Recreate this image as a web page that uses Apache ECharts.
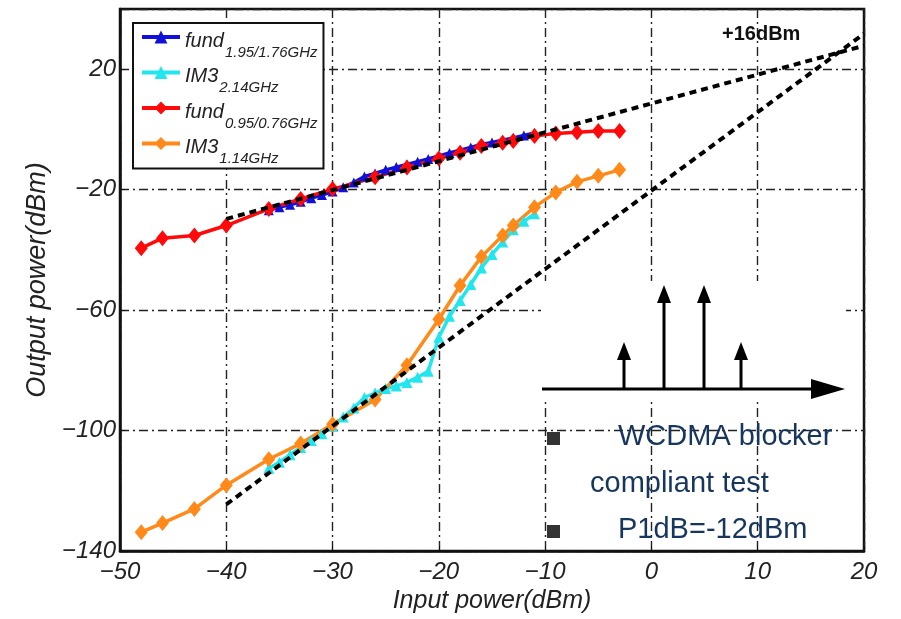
<!DOCTYPE html>
<html>
<head>
<meta charset="utf-8">
<script src="https://cdn.jsdelivr.net/npm/echarts@6/dist/echarts.min.js"></script>
<style>
html, body {margin: 0; padding: 0; background: #fff;}
#main {width: 901px; height: 619px;}
</style>
</head>
<body>
<div id="main"></div>
<script>
// fund 1.95/1.76GHz (blue) and IM3 2.14GHz (cyan), 1 dB steps
let highX = [-36,-35,-34,-33,-32,-31,-30,-29,-28,-27,-26,-25,-24,-23,-22,-21,-20,-19,-18,-17,-16,-15,-14,-13,-12,-11];
let fundHighY = [-26.8,-25.8,-25.0,-24.0,-22.8,-21.8,-20.6,-19.2,-17.6,-15.6,-14.6,-13.4,-12.5,-11.6,-10.7,-9.8,-8.8,-7.8,-6.9,-6.0,-5.0,-4.3,-3.6,-2.8,-2.0,-1.2];
let im3HighY = [-112.5,-110.5,-108.0,-105.6,-103.3,-101.0,-98.5,-95.5,-92.5,-89.0,-87.5,-86.0,-85.2,-84.0,-82.3,-80.3,-69.0,-62.0,-56.8,-51.5,-46.0,-41.5,-37.4,-33.3,-30.5,-28.0];

// fund 0.95/0.76GHz (red) and IM3 1.14GHz (orange)
let lowX = [-48,-46,-43,-40,-36,-33,-30,-26,-23,-20,-18,-16,-14,-13,-11,-9,-7,-5,-3];
let fundLowY = [-39.4,-36.1,-35.2,-31.9,-26.4,-23.1,-19.8,-15.9,-12.6,-9.6,-7.7,-5.5,-4.4,-3.8,-2.2,-1.3,-0.9,-0.5,-0.5];
let im3LowY = [-133.7,-130.7,-126.0,-118.1,-109.5,-104.3,-97.9,-89.7,-78.3,-63.0,-51.8,-42.3,-35.2,-31.9,-25.8,-20.9,-17.4,-15.4,-13.4];

// extrapolated fits (dashed)
let fitX = [-40, 20];
let fitFundY = [-29.7, 27.8];
let fitIm3Y = [-124.5, 31.8];

let xTicks = [-50, -40, -30, -20, -10, 0, 10, 20];
let yTicks = [-140, -100, -60, -20, 20];

let names = ['fund195', 'im3214', 'fund095', 'im3114'];
let legendMain = {fund195: 'fund', im3214: 'IM3', fund095: 'fund', im3114: 'IM3'};
let legendSub = {fund195: '1.95/1.76GHz', im3214: '2.14GHz', fund095: '0.95/0.76GHz', im3114: '1.14GHz'};

function pairs(xs, ys){
    let out = [];
    for (let i = 0; i < xs.length; i++) out.push([xs[i], ys[i]]);
    return out;
}

function minus(v){
    return String(v).replace('-', '\u2212');
}

const FONT = '"Liberation Sans", Arial, sans-serif';
let gridDash = [9, 4, 2, 4];

function dataSeries(name, xs, ys, color, symbol, size){
    return {
        name: name,
        type: 'line',
        data: pairs(xs, ys),
        symbol: symbol,
        symbolSize: size,
        itemStyle: {color: color},
        lineStyle: {color: color, width: 3.5},
        z: 2
    };
}

function fitSeries(ys){
    return {
        type: 'line',
        data: pairs(fitX, ys),
        symbol: 'none',
        lineStyle: {color: '#000', width: 4, type: [7, 5]},
        z: 4
    };
}

let tones = [[624, 342], [664, 285], [704, 285], [741, 342]];
let inset = [
    {type: 'rect', z: 1, shape: {x: 541, y: 281, width: 305, height: 119}, style: {fill: '#fff'}},
    {type: 'line', z: 3, shape: {x1: 542, y1: 389, x2: 815, y2: 389}, style: {stroke: '#000', lineWidth: 3}},
    {type: 'polygon', z: 3, shape: {points: [[811, 379], [845, 389], [811, 399]]}, style: {fill: '#000'}}
];
for (let t of tones){
    inset.push({type: 'line', z: 3, shape: {x1: t[0], y1: 389, x2: t[0], y2: t[1] + 14}, style: {stroke: '#000', lineWidth: 3}});
    inset.push({type: 'polygon', z: 3, shape: {points: [[t[0] - 7, t[1] + 18], [t[0], t[1]], [t[0] + 7, t[1] + 18]]}, style: {fill: '#000'}});
}
let notes = [
    {type: 'text', z: 5, style: {text: '+16dBm', x: 722, y: 34, verticalAlign: 'middle', fontSize: 20, fontWeight: 'bold', fontFamily: FONT, fill: '#111'}},
    {type: 'rect', z: 5, shape: {x: 547, y: 432, width: 13, height: 13}, style: {fill: '#333'}},
    {type: 'rect', z: 5, shape: {x: 547, y: 525, width: 13, height: 13}, style: {fill: '#333'}},
    {type: 'text', z: 5, style: {text: 'WCDMA blocker', x: 618, y: 437, verticalAlign: 'middle', fontSize: 29, fontFamily: FONT, fill: '#17365d'}},
    {type: 'text', z: 5, style: {text: 'compliant test', x: 590, y: 484, verticalAlign: 'middle', fontSize: 29, fontFamily: FONT, fill: '#17365d'}},
    {type: 'text', z: 5, style: {text: 'P1dB=-12dBm', x: 618, y: 530, verticalAlign: 'middle', fontSize: 29, fontFamily: FONT, fill: '#17365d'}}
];

let option = {
    animation: false,
    backgroundColor: '#fff',
    grid: {left: 120, right: 37, top: 9, bottom: 65, show: true, borderColor: '#111', borderWidth: 2.5, backgroundColor: 'transparent'},
    legend: {
        data: names,
        selectedMode: false,
        orient: 'vertical',
        left: 133,
        top: 23,
        padding: [2, 6, 2, 7],
        itemGap: 0.5,
        itemWidth: 38,
        itemHeight: 16,
        lineStyle: {width: 4},
        backgroundColor: '#fff',
        borderColor: '#111',
        borderWidth: 2,
        z: 6,
        formatter: n => `{m|${legendMain[n]}}{s|${legendSub[n]}}`,
        textStyle: {
            rich: {
                m: {fontSize: 20, fontStyle: 'italic', fontFamily: FONT, color: '#222', lineHeight: 24, padding: [6, 0, 0, 0], verticalAlign: 'top'},
                s: {fontSize: 15, fontStyle: 'italic', fontFamily: FONT, color: '#222', lineHeight: 16, padding: [20, 0, 0, 1], verticalAlign: 'top'}
            }
        }
    },
    xAxis: {
        type: 'value',
        min: xTicks[0],
        max: xTicks[xTicks.length - 1],
        interval: 10,
        name: 'Input power(dBm)',
        nameLocation: 'middle',
        nameGap: 32,
        nameTextStyle: {fontSize: 25, fontStyle: 'italic', fontFamily: FONT, color: '#222'},
        axisLine: {onZero: false, lineStyle: {color: '#111', width: 2.5}},
        axisTick: {inside: true, length: 5, lineStyle: {color: '#111'}},
        axisLabel: {formatter: minus, fontSize: 24, fontStyle: 'italic', fontFamily: FONT, color: '#222', margin: 9},
        splitLine: {show: true, lineStyle: {color: '#222', width: 1.4, type: gridDash}}
    },
    yAxis: {
        type: 'value',
        min: yTicks[0],
        max: 40,
        interval: 40,
        name: 'Output power(dBm)',
        nameLocation: 'middle',
        nameGap: 66,
        nameTextStyle: {fontSize: 27, fontStyle: 'italic', fontFamily: FONT, color: '#222'},
        axisLine: {onZero: false, lineStyle: {color: '#111', width: 2.5}},
        axisTick: {inside: true, length: 5, lineStyle: {color: '#111'}},
        axisLabel: {formatter: minus, showMaxLabel: false, fontSize: 24, fontStyle: 'italic', fontFamily: FONT, color: '#222', margin: 4},
        splitLine: {show: true, lineStyle: {color: '#222', width: 1.4, type: gridDash}}
    },
    series: [
        dataSeries('fund195', highX, fundHighY, '#1010d8', 'triangle', 10),
        dataSeries('im3214', highX, im3HighY, '#22e6ee', 'triangle', 11),
        dataSeries('fund095', lowX, fundLowY, '#ff0a0a', 'diamond', [13, 16]),
        dataSeries('im3114', lowX, im3LowY, '#ff8a1a', 'diamond', [13, 16]),
        fitSeries(fitFundY),
        fitSeries(fitIm3Y)
    ],
    graphic: inset.concat(notes)
};

let chart = echarts.init(document.getElementById('main'));
chart.setOption(option);
</script>
</body>
</html>
